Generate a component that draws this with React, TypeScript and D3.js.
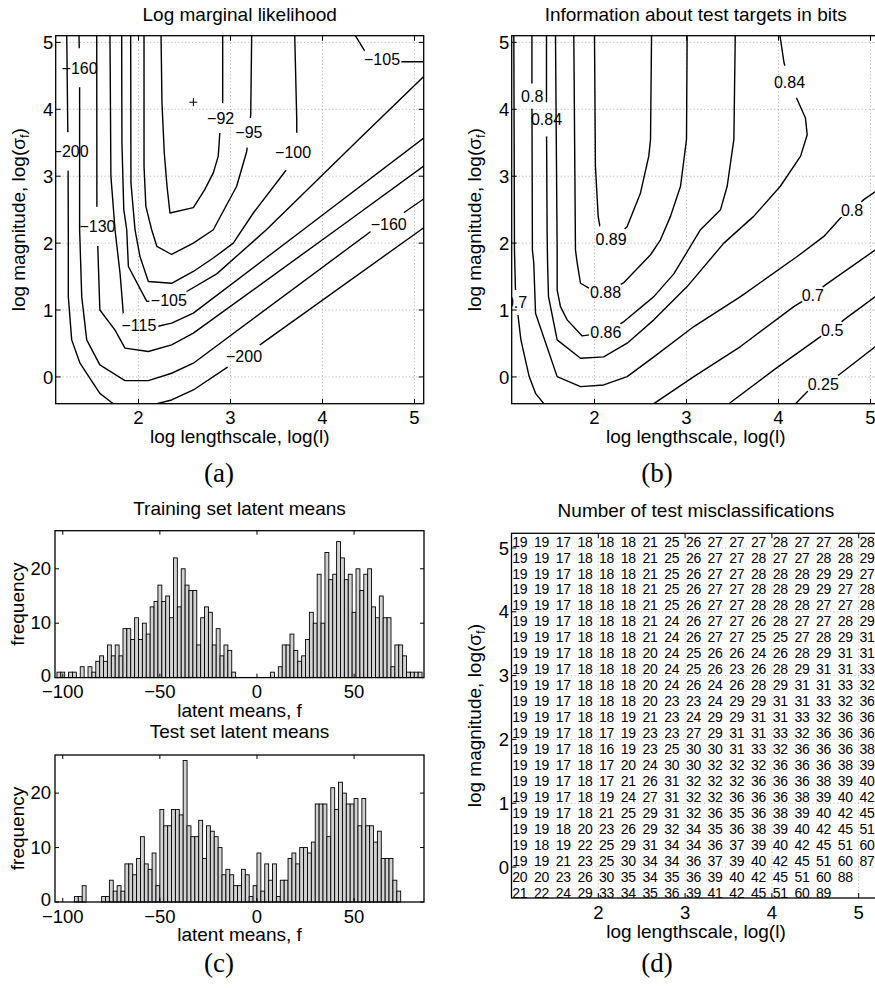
import React from "react";
import * as d3 from "d3";

type Pt = [number, number];
type Contour = { level: number; pts: Pt[] };
type CLabel = { text: string; x: number; y: number; level: number };

const W = 875;
const H = 988;
const SANS = "'Liberation Sans', Arial, Helvetica, sans-serif";
const SERIF = "'Liberation Serif', 'Times New Roman', serif";

// ---------- (a) Log marginal likelihood ----------
const contourTicksX = [2, 3, 4, 5];
const contourTicksY = [0, 1, 2, 3, 4, 5];

const likContours: Contour[] = [
  { level: -92, pts: [[2.245, 5.11], [2.255, 4.1], [2.28, 3.35], [2.31, 2.85], [2.342, 2.45], [2.596, 2.53], [2.72, 2.8], [2.813, 3.05], [2.867, 3.3], [2.885, 3.67], [2.9, 3.87], [2.915, 4.1], [2.915, 5.11]] },
  { level: -95, pts: [[2.06, 5.11], [2.06, 3.15], [2.08, 2.55], [2.143, 2.2], [2.2, 1.95], [2.36, 1.83], [2.596, 2.0], [2.813, 2.2], [3.067, 2.85], [3.176, 3.37], [3.2, 3.65], [3.22, 3.92], [3.23, 5.11]] },
  { level: -100, pts: [[1.915, 5.11], [1.918, 2.9], [1.962, 2.2], [2.016, 1.8], [2.107, 1.427], [2.36, 1.4], [2.596, 1.576], [2.813, 1.777], [3.03, 2.0], [3.248, 2.45], [3.61, 3.1], [3.68, 3.36], [3.72, 3.6], [3.72, 3.85], [3.698, 5.11]] },
  { level: -105, pts: [[1.817, 5.11], [1.82, 3.5], [1.84, 2.5], [1.872, 2.2], [1.89, 1.65], [2.09, 1.13], [2.33, 1.153], [2.524, 1.277], [2.85, 1.54], [3.39, 2.2], [4.41, 3.57], [5.1, 4.49], [5.2, 4.62]] },
  { level: -105, pts: [[4.335, 5.15], [4.46, 4.87], [4.647, 4.745], [4.84, 4.71], [5.2, 4.71]] },
  { level: -115, pts: [[1.69, 5.11], [1.7, 3.0], [1.745, 2.2], [1.8, 1.54], [1.836, 0.93], [2.005, 0.78], [2.2, 0.753], [2.36, 0.804], [2.596, 0.953], [3.79, 2.2], [5.1, 3.57], [5.2, 3.67]] },
  { level: -130, pts: [[1.546, 5.11], [1.548, 2.25], [1.556, 2.0], [1.58, 1.0], [1.745, 0.7], [1.853, 0.43], [2.107, 0.38], [2.36, 0.48], [2.596, 0.654], [4.15, 2.2], [5.1, 3.15], [5.2, 3.25]] },
  { level: -160, pts: [[1.353, 5.11], [1.36, 4.62], [1.36, 2.2], [1.383, 1.2], [1.437, 0.554], [1.58, 0.18], [1.853, -0.055], [2.107, -0.055], [2.36, 0.055], [2.596, 0.205], [4.55, 2.2], [4.72, 2.3], [5.1, 2.66], [5.2, 2.74]] },
  { level: -200, pts: [[1.22, 5.11], [1.234, 3.37], [1.237, 2.2], [1.237, 1.2], [1.274, 0.554], [1.364, 0.205], [1.58, -0.245], [1.726, -0.4], [1.8, -0.47]] },
  { level: -200, pts: [[2.1, -0.47], [2.2, -0.4], [2.36, -0.344], [2.596, -0.195], [2.976, 0.155], [3.147, 0.305], [3.32, 0.48], [5.07, 2.2], [5.2, 2.32]] },
];

const likLabels: CLabel[] = [
  { text: "−160", x: 1.36, y: 4.62, level: -160 },
  { text: "−200", x: 1.262, y: 3.37, level: -200 },
  { text: "−130", x: 1.554, y: 2.25, level: -130 },
  { text: "−92", x: 2.893, y: 3.87, level: -92 },
  { text: "−95", x: 3.2, y: 3.65, level: -95 },
  { text: "−100", x: 3.68, y: 3.36, level: -100 },
  { text: "−105", x: 4.647, y: 4.745, level: -105 },
  { text: "−160", x: 4.72, y: 2.275, level: -160 },
  { text: "−105", x: 2.33, y: 1.153, level: -105 },
  { text: "−115", x: 2.005, y: 0.78, level: -115 },
  { text: "−200", x: 3.147, y: 0.305, level: -200 },
];

const likMaximum: Pt = [2.596, 4.106];

// ---------- (b) Information about test targets ----------
const infoContours: Contour[] = [
  { level: 0.89, pts: [[2.0, 5.11], [2.01, 3.15], [2.04, 2.4], [2.065, 2.2], [2.12, 2.06], [2.25, 2.1], [2.355, 2.25], [2.5, 2.75], [2.59, 3.3], [2.609, 3.55], [2.62, 5.11]] },
  { level: 0.88, pts: [[1.775, 5.11], [1.786, 3.15], [1.793, 1.9], [1.812, 1.7], [1.848, 1.4], [1.94, 1.327], [2.127, 1.267], [2.32, 1.41], [2.609, 1.826], [2.717, 2.05], [2.826, 2.4], [2.935, 2.85], [3.0, 3.55], [3.007, 5.11]] },
  { level: 0.86, pts: [[1.576, 5.11], [1.587, 3.15], [1.594, 1.9], [1.594, 1.3], [1.63, 1.05], [1.703, 0.853], [1.866, 0.613], [2.127, 0.663], [2.32, 0.828], [2.645, 1.2], [2.862, 1.54], [3.152, 2.2], [3.37, 2.5], [3.442, 2.85], [3.515, 3.55], [3.53, 5.11]] },
  { level: 0.84, pts: [[1.478, 5.11], [1.478, 3.85], [1.485, 2.15], [1.49, 1.7], [1.5, 1.2], [1.594, 0.554], [1.848, 0.28], [2.1, 0.3], [2.355, 0.504], [2.645, 0.853], [3.007, 1.35], [3.406, 2.0], [3.73, 2.4], [4.02, 2.85], [4.24, 3.3], [4.312, 3.62], [4.293, 3.87], [4.196, 4.17], [4.12, 4.406], [4.06, 4.696], [4.015, 5.11]] },
  { level: 0.8, pts: [[1.32, 5.11], [1.32, 4.196], [1.325, 1.9], [1.34, 1.7], [1.359, 0.953], [1.594, 0.005], [1.848, -0.145], [2.1, -0.12], [2.355, 0.005], [2.645, 0.3], [3.08, 0.753], [3.587, 1.2], [4.203, 1.8], [4.493, 2.1], [4.674, 2.375], [4.8, 2.49], [4.927, 2.65], [5.054, 2.77], [5.2, 2.87]] },
  { level: 0.7, pts: [[1.123, 5.11], [1.13, 1.9], [1.14, 1.35], [1.147, 1.11], [1.17, 0.903], [1.2, 0.554], [1.29, 0.005], [1.359, -0.245], [1.45, -0.4], [1.5, -0.47]] },
  { level: 0.7, pts: [[2.6, -0.47], [2.645, -0.4], [3.08, 0.005], [3.587, 0.454], [4.166, 1.05], [4.373, 1.227], [4.51, 1.376], [5.054, 1.9], [5.2, 2.0]] },
  { level: 0.5, pts: [[3.4, -0.46], [3.46, -0.4], [3.95, 0.105], [4.457, 0.603], [4.584, 0.7], [4.71, 0.853], [5.054, 1.2], [5.2, 1.3]] },
  { level: 0.25, pts: [[4.14, -0.46], [4.185, -0.4], [4.312, -0.22], [4.486, -0.105], [4.655, 0.03], [5.054, 0.454], [5.2, 0.55]] },
];

const infoLabels: CLabel[] = [
  { text: "0.8", x: 1.323, y: 4.196, level: 0.8 },
  { text: "0.84", x: 1.478, y: 3.85, level: 0.84 },
  { text: "0.84", x: 4.12, y: 4.406, level: 0.84 },
  { text: "0.89", x: 2.18, y: 2.06, level: 0.89 },
  { text: "0.88", x: 2.12, y: 1.267, level: 0.88 },
  { text: "0.86", x: 2.123, y: 0.663, level: 0.86 },
  { text: "0.7", x: 1.147, y: 1.11, level: 0.7 },
  { text: "0.7", x: 4.373, y: 1.227, level: 0.7 },
  { text: "0.8", x: 4.8, y: 2.49, level: 0.8 },
  { text: "0.5", x: 4.584, y: 0.7, level: 0.5 },
  { text: "0.25", x: 4.486, y: -0.105, level: 0.25 },
];

// ---------- (c) Histograms of latent means ----------
const binWidth = 2;
const histXDomain: [number, number] = [-104, 86];
const histYDomain: [number, number] = [0, 27];
const histTicksX = [-100, -50, 0, 50];
const histTicksY = [0, 10, 20];

const trainStart = -103;
const trainCounts = [
  1, 1, 0, 1, 1, 0,
  2, 0, 2, 1, 3, 4, 3, 6, 4, 6, 4, 9, 9, 7, 11, 7, 10, 8, 13, 14, 17, 14, 15, 11, 22, 13, 20, 17, 16, 16, 6, 11, 13, 12, 6, 9, 4, 6, 5,
  1, 0, 0, 0, 0, 0, 0, 0, 0, 0, 1, 0, 2,
  6, 6, 8, 5, 3, 4, 7, 12, 10, 19, 10, 23, 18, 19, 25, 22, 18, 19, 12, 20, 16, 19, 20, 13, 11, 15, 11, 11, 2, 6, 6, 4,
  1, 1, 1, 1,
];

const testStart = -94;
const testCounts = [
  1, 1, 3, 0, 0, 0, 0, 1, 1, 4, 2, 3, 2, 7, 7, 5, 8, 12, 7, 6, 9, 3, 17, 14, 14, 17, 17, 16, 26, 14, 12, 12, 15, 8, 14, 13, 12, 10, 5, 6,
  5, 3, 3, 6, 5, 1, 3, 9, 2, 7, 4, 7, 1, 4, 4, 8, 9, 7, 10, 10, 9, 11, 18, 18, 18, 12, 21, 17, 22, 20, 18, 18, 19, 14, 19, 14, 14, 11, 13, 8,
  8, 8, 4, 2,
];

// ---------- (d) Number of test misclassifications ----------
const gridColX = [1, 1.25, 1.5, 1.75, 2, 2.25, 2.5, 2.75, 3, 3.25, 3.5, 3.75, 4, 4.25, 4.5, 4.75, 5];
const gridRowY = [5.1, 4.85, 4.6, 4.35, 4.1, 3.85, 3.6, 3.35, 3.1, 2.85, 2.6, 2.35, 2.1, 1.85, 1.6, 1.35, 1.1, 0.85, 0.6, 0.35, 0.1, -0.15, -0.4];
const misclass: (number | null)[][] = [
  [19, 19, 17, 18, 18, 18, 21, 25, 26, 27, 27, 27, 28, 27, 27, 28, 28],
  [19, 19, 17, 18, 18, 18, 21, 25, 26, 27, 27, 28, 27, 27, 28, 28, 29],
  [19, 19, 17, 18, 18, 18, 21, 25, 26, 27, 27, 28, 28, 28, 29, 29, 27],
  [19, 19, 17, 18, 18, 18, 21, 25, 26, 27, 27, 28, 28, 29, 29, 27, 28],
  [19, 19, 17, 18, 18, 18, 21, 25, 26, 27, 27, 28, 28, 28, 27, 27, 28],
  [19, 19, 17, 18, 18, 18, 21, 24, 26, 27, 27, 26, 28, 27, 27, 28, 29],
  [19, 19, 17, 18, 18, 18, 21, 24, 26, 27, 27, 25, 25, 27, 28, 29, 31],
  [19, 19, 17, 18, 18, 18, 20, 24, 25, 26, 26, 24, 26, 28, 29, 31, 31],
  [19, 19, 17, 18, 18, 18, 20, 24, 25, 26, 23, 26, 28, 29, 31, 31, 33],
  [19, 19, 17, 18, 18, 18, 20, 24, 26, 24, 26, 28, 29, 31, 31, 33, 32],
  [19, 19, 17, 18, 18, 18, 20, 23, 23, 24, 29, 29, 31, 31, 33, 32, 36],
  [19, 19, 17, 18, 18, 19, 21, 23, 24, 29, 29, 31, 31, 33, 32, 36, 36],
  [19, 19, 17, 18, 17, 19, 23, 23, 27, 29, 31, 31, 33, 32, 36, 36, 36],
  [19, 19, 17, 18, 16, 19, 23, 25, 30, 30, 31, 33, 32, 36, 36, 36, 38],
  [19, 19, 17, 18, 17, 20, 24, 30, 30, 32, 32, 32, 36, 36, 36, 38, 39],
  [19, 19, 17, 18, 17, 21, 26, 31, 32, 32, 32, 36, 36, 36, 38, 39, 40],
  [19, 19, 17, 18, 19, 24, 27, 31, 32, 32, 36, 36, 36, 38, 39, 40, 42],
  [19, 19, 17, 18, 21, 25, 29, 31, 32, 36, 35, 36, 38, 39, 40, 42, 45],
  [19, 19, 18, 20, 23, 26, 29, 32, 34, 35, 36, 38, 39, 40, 42, 45, 51],
  [19, 18, 19, 22, 25, 29, 31, 34, 34, 36, 37, 39, 40, 42, 45, 51, 60],
  [19, 19, 21, 23, 25, 30, 34, 34, 36, 37, 39, 40, 42, 45, 51, 60, 87],
  [20, 20, 23, 26, 30, 35, 34, 35, 36, 39, 40, 42, 45, 51, 60, 88, null],
  [21, 22, 24, 29, 33, 34, 35, 36, 39, 41, 42, 45, 51, 60, 89, null, null],
];

// ---------- helpers ----------
const LABEL_FS = 16;
const TICK_FS = 18.5;
const AX_FS = 19;

function textWidth(s: string, fs: number) {
  let w = 0;
  for (const c of s) w += c === "." ? 0.278 : c === "−" ? 0.584 : 0.556;
  return w * fs;
}

function YLabel({ x, cy, children }: { x: number; cy: number; children: React.ReactNode }) {
  return (
    <text transform={`translate(${x},${cy}) rotate(-90)`} textAnchor="middle" fontSize={AX_FS}>
      {children}
    </text>
  );
}

function SigmaLabel({ x, cy }: { x: number; cy: number }) {
  return (
    <YLabel x={x} cy={cy}>
      log magnitude, log(σ
      <tspan fontSize={13} dy={4}>f</tspan>
      <tspan dy={-4}>)</tspan>
    </YLabel>
  );
}

function ContourPanel(props: {
  id: string;
  x0: number;
  x1: number;
  y0: number;
  y1: number;
  contours: Contour[];
  labels: CLabel[];
  title: string;
  marker?: Pt;
}) {
  const { id, x0, x1, y0, y1 } = props;
  const xs = d3.scaleLinear().domain([1.1, 5.1]).range([x0, x1]);
  const ys = d3.scaleLinear().domain([-0.4, 5.1]).range([y1, y0]);
  const line = d3.line<Pt>().x((d) => xs(d[0])).y((d) => ys(d[1]));
  const levels = Array.from(new Set(props.contours.map((c) => c.level)));
  const cx = (x0 + x1) / 2;
  const cy = (y0 + y1) / 2;
  return (
    <g>
      <defs>
        <clipPath id={`${id}-clip`}>
          <rect x={x0} y={y0} width={x1 - x0} height={y1 - y0} />
        </clipPath>
        {levels.map((lv, i) => (
          <mask id={`${id}-m${i}`} key={i} maskUnits="userSpaceOnUse" x={0} y={0} width={W} height={H}>
            <rect x={0} y={0} width={W} height={H} fill="white" />
            {props.labels
              .filter((l) => l.level === lv)
              .map((l, j) => (
                <circle key={j} cx={xs(l.x)} cy={ys(l.y)} r={textWidth(l.text, LABEL_FS) / 2 + 1.5} fill="black" />
              ))}
          </mask>
        ))}
      </defs>
      {contourTicksX.map((t) => (
        <line key={"gx" + t} x1={xs(t)} x2={xs(t)} y1={y0} y2={y1} stroke="#9a9a9a" strokeWidth={0.8} strokeDasharray="1,2.5" />
      ))}
      {contourTicksY.map((t) => (
        <line key={"gy" + t} x1={x0} x2={x1} y1={ys(t)} y2={ys(t)} stroke="#9a9a9a" strokeWidth={0.8} strokeDasharray="1,2.5" />
      ))}
      <g clipPath={`url(#${id}-clip)`}>
        {props.contours.map((c, i) => (
          <path
            key={i}
            d={line(c.pts) || ""}
            fill="none"
            stroke="black"
            strokeWidth={1.4}
            strokeLinejoin="round"
            mask={`url(#${id}-m${levels.indexOf(c.level)})`}
          />
        ))}
        {props.labels.map((l, i) => (
          <text key={i} x={xs(l.x)} y={ys(l.y)} dy="0.36em" textAnchor="middle" fontSize={LABEL_FS}>
            {l.text}
          </text>
        ))}
        {props.marker && (
          <g stroke="black" strokeWidth={1}>
            <line x1={xs(props.marker[0]) - 4} x2={xs(props.marker[0]) + 4} y1={ys(props.marker[1])} y2={ys(props.marker[1])} />
            <line x1={xs(props.marker[0])} x2={xs(props.marker[0])} y1={ys(props.marker[1]) - 4} y2={ys(props.marker[1]) + 4} />
          </g>
        )}
      </g>
      <rect x={x0} y={y0} width={x1 - x0} height={y1 - y0} fill="none" stroke="black" strokeWidth={1.3} />
      {contourTicksX.map((t) => (
        <g key={"tx" + t}>
          <line x1={xs(t)} x2={xs(t)} y1={y1} y2={y1 - 5} stroke="black" />
          <line x1={xs(t)} x2={xs(t)} y1={y0} y2={y0 + 5} stroke="black" />
          <text x={xs(t)} y={y1 + 20.7} textAnchor="middle" fontSize={TICK_FS}>
            {t}
          </text>
        </g>
      ))}
      {contourTicksY.map((t) => (
        <g key={"ty" + t}>
          <line x1={x0} x2={x0 + 5} y1={ys(t)} y2={ys(t)} stroke="black" />
          <line x1={x1} x2={x1 - 5} y1={ys(t)} y2={ys(t)} stroke="black" />
          <text x={x0 - 2.5} y={ys(t)} dy="0.36em" textAnchor="end" fontSize={TICK_FS}>
            {t}
          </text>
        </g>
      ))}
      <text x={cx} y={20.7} textAnchor="middle" fontSize={AX_FS}>
        {props.title}
      </text>
      <text x={cx} y={y1 + 39.6} textAnchor="middle" fontSize={AX_FS}>
        log lengthscale, log(l)
      </text>
      <SigmaLabel x={x0 - 30.7} cy={cy} />
    </g>
  );
}

function HistPanel(props: {
  x0: number;
  x1: number;
  y0: number;
  y1: number;
  start: number;
  counts: number[];
  title: string;
  titleY: number;
}) {
  const { x0, x1, y0, y1 } = props;
  const xs = d3.scaleLinear().domain(histXDomain).range([x0, x1]);
  const ys = d3.scaleLinear().domain(histYDomain).range([y1, y0]);
  const cx = (x0 + x1) / 2;
  return (
    <g>
      {props.counts.map((c, i) => {
        if (c <= 0) return null;
        const a = xs(props.start + i * binWidth);
        const b = xs(props.start + (i + 1) * binWidth);
        return <rect key={i} x={a} y={ys(c)} width={b - a} height={ys(0) - ys(c)} fill="#d2d2d2" stroke="black" strokeWidth={0.9} />;
      })}
      <rect x={x0} y={y0} width={x1 - x0} height={y1 - y0} fill="none" stroke="black" strokeWidth={1.3} />
      {histTicksX.map((t) => (
        <g key={"hx" + t}>
          <line x1={xs(t)} x2={xs(t)} y1={y1} y2={y1 - 4} stroke="black" />
          <line x1={xs(t)} x2={xs(t)} y1={y0} y2={y0 + 4} stroke="black" />
          <text x={xs(t)} y={y1 + 20.7} textAnchor="middle" fontSize={TICK_FS}>
            {t < 0 ? "−" + Math.abs(t) : String(t)}
          </text>
        </g>
      ))}
      {histTicksY.map((t) => (
        <g key={"hy" + t}>
          <line x1={x0} x2={x0 + 4} y1={ys(t)} y2={ys(t)} stroke="black" />
          <line x1={x1} x2={x1 - 4} y1={ys(t)} y2={ys(t)} stroke="black" />
          <text x={x0 - 4} y={ys(t) - (t === 0 ? 2 : 0)} dy="0.34em" textAnchor="end" fontSize={TICK_FS}>
            {t}
          </text>
        </g>
      ))}
      <text x={cx} y={props.titleY} textAnchor="middle" fontSize={AX_FS}>
        {props.title}
      </text>
      <text x={cx} y={y1 + 39.2} textAnchor="middle" fontSize={AX_FS}>
        latent means, f
      </text>
      <YLabel x={24} cy={(y0 + y1) / 2}>
        frequency
      </YLabel>
    </g>
  );
}

function GridPanel() {
  const x0 = 511.5;
  const x1 = 880.4;
  const y0 = 533.3;
  const y1 = 898;
  const xs = d3.scaleLinear().domain([1.0, 5.25]).range([x0, x1]);
  const ys = d3.scaleLinear().domain([-0.485, 5.23]).range([y1, y0]);
  return (
    <g>
      {contourTicksX.map((t) => (
        <line key={"gx" + t} x1={xs(t)} x2={xs(t)} y1={y0} y2={y1} stroke="#9a9a9a" strokeWidth={0.8} strokeDasharray="1,2.5" />
      ))}
      {contourTicksY.map((t) => (
        <line key={"gy" + t} x1={x0} x2={x1} y1={ys(t)} y2={ys(t)} stroke="#9a9a9a" strokeWidth={0.8} strokeDasharray="1,2.5" />
      ))}
      {misclass.map((row, i) =>
        row.map((v, j) =>
          v === null ? null : (
            <text key={i + "-" + j} x={xs(gridColX[j]) + 0.8} y={ys(gridRowY[i])} dy="0.36em" fontSize={14} letterSpacing={-0.3}>
              {v}
            </text>
          )
        )
      )}
      <rect x={x0} y={y0} width={x1 - x0} height={y1 - y0} fill="none" stroke="black" strokeWidth={1.3} />
      {contourTicksX.map((t) => (
        <g key={"tx" + t}>
          <line x1={xs(t)} x2={xs(t)} y1={y1} y2={y1 - 5} stroke="black" />
          <line x1={xs(t)} x2={xs(t)} y1={y0} y2={y0 + 5} stroke="black" />
          <text x={xs(t)} y={y1 + 20.7} textAnchor="middle" fontSize={TICK_FS}>
            {t}
          </text>
        </g>
      ))}
      {contourTicksY.map((t) => (
        <g key={"ty" + t}>
          <line x1={x0} x2={x0 + 5} y1={ys(t)} y2={ys(t)} stroke="black" />
          <text x={x0 - 2.5} y={ys(t)} dy="0.36em" textAnchor="end" fontSize={TICK_FS}>
            {t}
          </text>
        </g>
      ))}
      <text x={(x0 + x1) / 2} y={517} textAnchor="middle" fontSize={AX_FS}>
        Number of test misclassifications
      </text>
      <text x={(x0 + x1) / 2} y={y1 + 39.6} textAnchor="middle" fontSize={AX_FS}>
        log lengthscale, log(l)
      </text>
      <SigmaLabel x={x0 - 30.7} cy={(y0 + y1) / 2} />
    </g>
  );
}

export default function App() {
  return (
    <svg
      width={W}
      height={H}
      viewBox={`0 0 ${W} ${H}`}
      style={{ position: "absolute", left: 0, top: 0, background: "white" }}
      fontFamily={SANS}
    >
      <rect x={0} y={0} width={W} height={H} fill="white" />
      <ContourPanel id="pa" x0={55.7} x1={423.7} y0={35.7} y1={403.7} contours={likContours} labels={likLabels} title="Log marginal likelihood" marker={likMaximum} />
      <ContourPanel id="pb" x0={511.7} x1={879.7} y0={35.7} y1={403.7} contours={infoContours} labels={infoLabels} title="Information about test targets in bits" />
      <HistPanel x0={55} x1={424} y0={530.7} y1={677.6} start={trainStart} counts={trainCounts} title="Training set latent means" titleY={515} />
      <HistPanel x0={55} x1={424} y0={755} y1={902} start={testStart} counts={testCounts} title="Test set latent means" titleY={738.3} />
      <GridPanel />
      <g fontFamily={SERIF} fontSize={27} textAnchor="middle">
        <text x={219} y={482}>(a)</text>
        <text x={657} y={482}>(b)</text>
        <text x={219} y={972}>(c)</text>
        <text x={657} y={972}>(d)</text>
      </g>
    </svg>
  );
}
